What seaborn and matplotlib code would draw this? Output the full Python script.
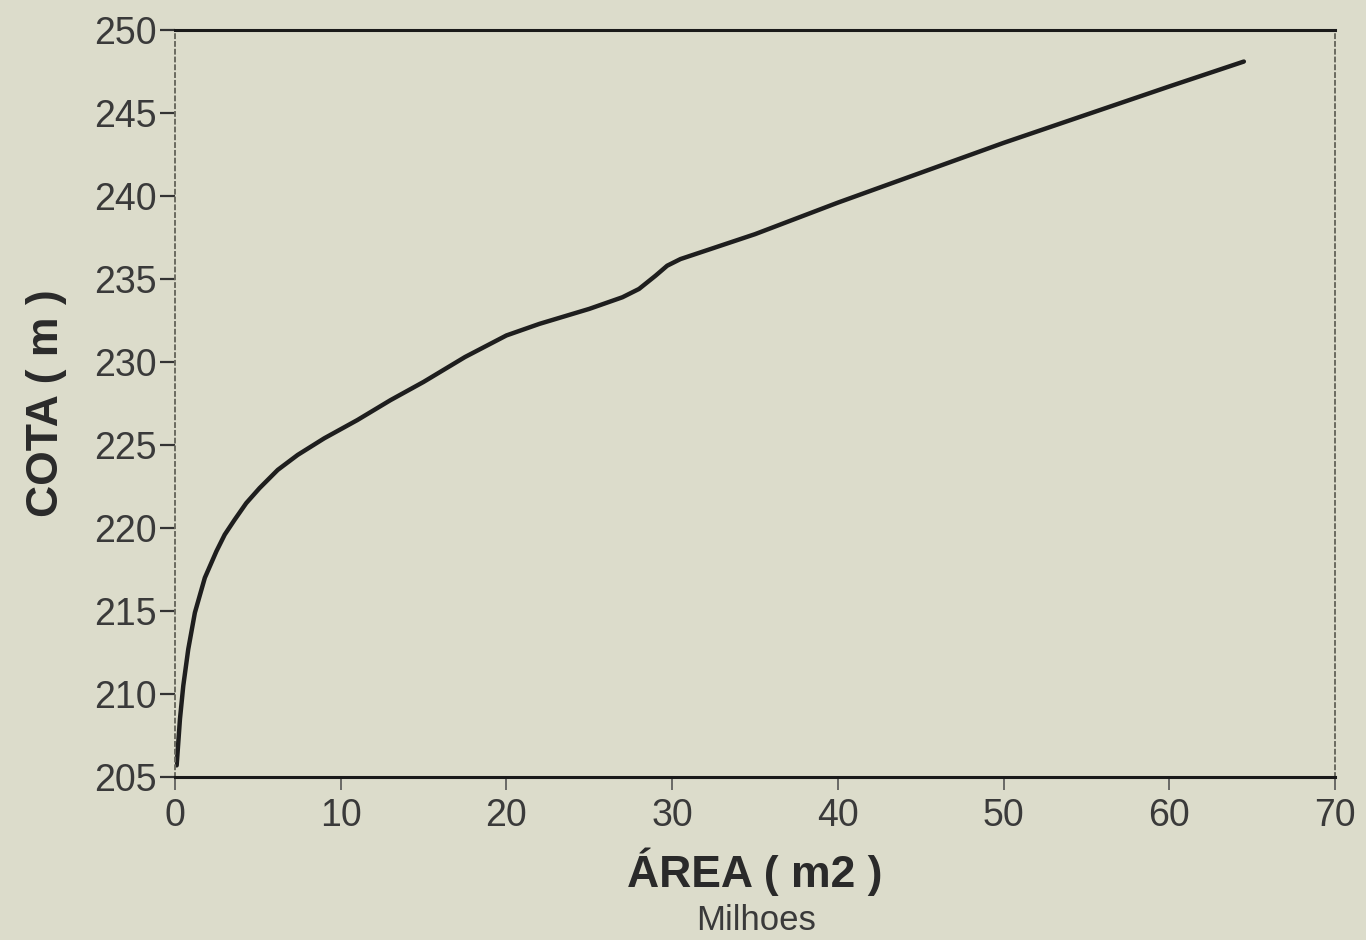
import matplotlib
matplotlib.use("Agg")
import matplotlib.pyplot as plt
import seaborn as sns
import pandas as pd

# Data (area in millions of m2, elevation in m)
area_milhoes = [0.1, 0.3, 0.5, 0.8, 1.2, 1.8, 2.5, 3.0, 3.6, 4.3, 5.1, 6.2, 7.4, 8.2, 9.0, 11.0,
                13.0, 15.0, 17.5, 20.0, 22.0, 25.0, 27.0, 28.0, 29.0, 29.7, 30.5,
                32.0, 35.0, 40.0, 45.0, 50.0, 55.0, 60.0, 64.5]
cota_m = [205.7, 208.5, 210.5, 212.7, 214.9, 217.0, 218.6, 219.6, 220.5, 221.5, 222.4, 223.5, 224.4, 224.9, 225.4, 226.5,
          227.7, 228.8, 230.3, 231.6, 232.3, 233.2, 233.9, 234.4, 235.2, 235.8, 236.2,
          236.7, 237.7, 239.6, 241.4, 243.2, 244.9, 246.6, 248.1]

x_ticks = [0, 10, 20, 30, 40, 50, 60, 70]
y_ticks = [205, 210, 215, 220, 225, 230, 235, 240, 245, 250]

df = pd.DataFrame({"area": area_milhoes, "cota": cota_m})

sns.set_theme(style="white")
plt.rcParams["font.family"] = ["Liberation Sans", "DejaVu Sans"]

bg = "#dcdccb"
txt = "#3a3a3a"
fig = plt.figure(figsize=(13.66, 9.4), dpi=100, facecolor=bg)
ax = fig.add_axes([175/1366, 1-777/940, (1335-175)/1366, (777-30)/940])
ax.set_facecolor(bg)

sns.lineplot(data=df, x="area", y="cota", ax=ax, color="#1e1e1e", linewidth=3.2,
             estimator=None, sort=False)

ax.set_xlim(0, 70)
ax.set_ylim(205, 250)
ax.set_xticks(x_ticks)
ax.set_yticks(y_ticks)
ax.set_xticklabels([str(v) for v in x_ticks])
ax.set_yticklabels([str(v) for v in y_ticks])

for side in ["top", "bottom"]:
    ax.spines[side].set_visible(True)
    ax.spines[side].set_color("#1a1a1a")
    ax.spines[side].set_linewidth(2.2)
for side in ["left", "right"]:
    ax.spines[side].set_visible(True)
    ax.spines[side].set_color("#6a6a60")
    ax.spines[side].set_linewidth(1.4)
    ax.spines[side].set_linestyle((0, (2, 2)))

ax.tick_params(axis="y", direction="out", length=11, width=1.6, color="#333333",
               labelsize=27, labelcolor=txt, pad=2, left=True)
ax.tick_params(axis="x", direction="out", length=9, width=1.2, color="#555555",
               labelsize=27, labelcolor=txt, pad=6, bottom=True)

ax.set_xlabel("ÁREA ( m2 )", fontsize=32, fontweight="bold", color="#2a2a2a", labelpad=10)
ax.set_ylabel("COTA ( m )", fontsize=32, fontweight="bold", color="#2a2a2a", labelpad=20)
fig.text(756/1366, 1-920/940, "Milhoes", fontsize=25, color=txt, ha="center", va="center")

fig.savefig("out.png", dpi=100, facecolor=bg)
